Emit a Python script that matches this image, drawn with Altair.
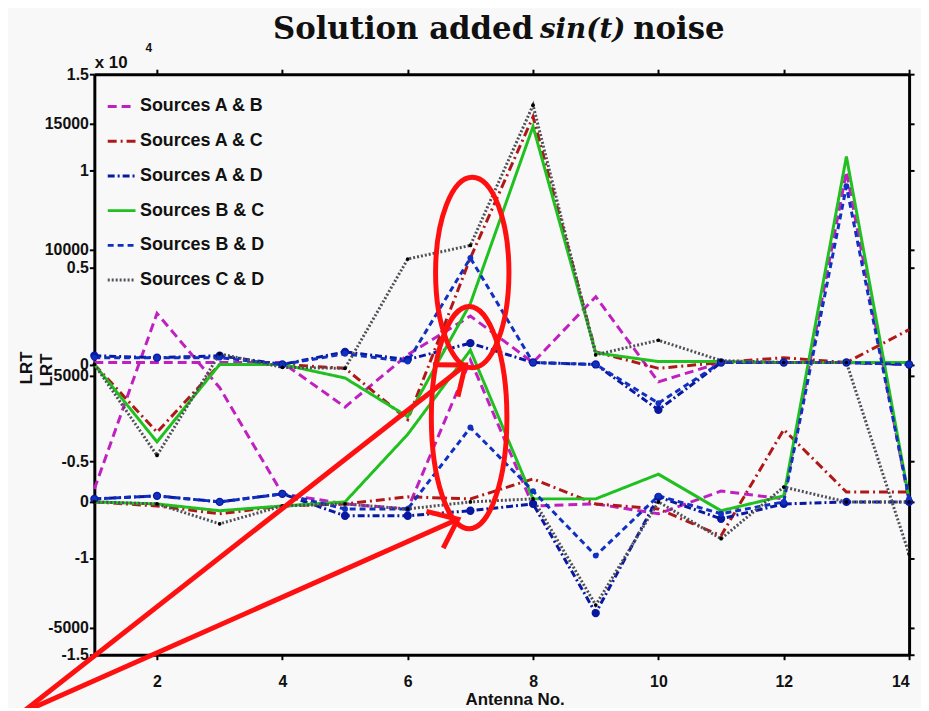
import altair as alt
import pandas as pd

# ---------------- data ----------------
antenna = list(range(1, 15))
series = ["Sources A & B", "Sources A & C", "Sources A & D",
          "Sources B & C", "Sources B & D", "Sources C & D"]

# upper group (left axis in units of x 10^4)
upper_AB = [0.01, 0.01, 0.01, 0.01, -0.22, 0.05, 0.25, 0.01, 0.35, -0.09, 0.01, 0.01, 0.01, 0.0]
upper_AC = [0.0, -0.35, 0.0, 0.0, -0.02, -0.285, 0.55, 1.28, 0.065, -0.02, 0.01, 0.035, 0.01, 0.18]
upper_AD = [0.045, 0.035, 0.045, 0.0, 0.065, 0.025, 0.11, 0.01, 0.0, -0.235, 0.01, 0.01, 0.01, 0.0]
upper_BC = [0.0, -0.40, 0.0, 0.0, -0.07, -0.27, 0.315, 1.23, 0.06, 0.015, 0.015, 0.01, 0.01, 0.01]
upper_BD = [0.035, 0.035, 0.035, 0.0, 0.055, 0.015, 0.55, 0.01, 0.0, -0.2, 0.01, 0.01, 0.01, 0.0]
upper_CD = [0.0, -0.47, 0.055, -0.015, -0.02, 0.545, 0.615, 1.34, 0.05, 0.125, 0.02, 0.01, 0.01, -0.98]

# lower group (second left axis, raw units)
lower_AB = [510, 7480, 4530, 320, -80, -280, 5630, -160, -80, -470, 430, 120, 13100, 0]
lower_AC = [0, -160, -470, -160, -80, 200, 120, 910, -80, -280, -1340, 2870, 390, 390]
lower_AD = [120, 240, 0, 320, -550, -550, -350, -80, -4410, 200, -670, -80, 0, 0]
lower_BC = [0, -80, -350, -160, 0, 2680, 6020, 120, 120, 1100, -350, 240, 13700, 120]
lower_BD = [120, 240, 0, 320, -280, -280, 2950, 430, -2130, 240, -470, 0, 12520, 120]
lower_CD = [0, -80, -870, -160, -80, -280, 0, 120, -4090, 0, -1460, 590, 0, 0]

upper = dict(zip(series, [upper_AB, upper_AC, upper_AD, upper_BC, upper_BD, upper_CD]))
lower = dict(zip(series, [lower_AB, lower_AC, lower_AD, lower_BC, lower_BD, lower_CD]))

upper_ticks = [1.5, 1, 0.5, 0, -0.5, -1, -1.5]
upper_tick_labels = ["1.5", "1", "0.5", "0", "-0.5", "-1", "-1.5"]
lower_ticks = [15000, 10000, 5000, 0, -5000]
x_ticks = [2, 4, 6, 8, 10, 12, 14]

# annotation (red ellipses and arrows) in data coordinates
ellipse_x = [7.03, 6.98]
ellipse_y = [0.475, -0.275]
arrow_x0 = [-0.156, -0.156]
arrow_y0 = [-1.80, -1.80]
arrow_x1 = [6.92, 6.80]
arrow_y1 = [-0.003, -0.80]

# ---------------- styling ----------------
colors = ["#c020c0", "#b01818", "#0818a0", "#20c020", "#1030c0", "#505058"]
dashes = [[9, 5], [9, 4, 2, 4], [7, 3, 2, 3], [1, 0], [6, 4], [2, 2]]
widths = [3, 3, 3, 3.5, 3, 2.5]

# second axis mapped onto the first one: pos = OFF + SC * value
OFF = -0.7103
SC = 0.00013026

rows = []
for name in series:
    for i, x in enumerate(antenna):
        rows.append({"antenna": x, "series": name, "panel": "upper", "value": upper[name][i]})
        rows.append({"antenna": x, "series": name, "panel": "lower", "value": lower[name][i]})
df = pd.DataFrame(rows)

tick_pos = upper_ticks + [OFF + SC * v for v in lower_ticks]
tick_lab = upper_tick_labels + [str(v) for v in lower_ticks]
expr = "''"
for p, l in zip(tick_pos, tick_lab):
    expr = f"abs(datum.value - ({p:.5f})) < 0.003 ? '{l}' : " + expr

FONT = "Liberation Sans"
xscale = alt.Scale(domain=[1, 14], nice=False, zero=False)
yscale = alt.Scale(domain=[-1.5, 1.5], nice=False, zero=False)
xaxis = alt.Axis(values=x_ticks, title=None, labelPadding=14, format="d")
yaxis = alt.Axis(values=tick_pos, title=None, labelExpr=expr, labelPadding=1,
                 labelOverlap=False, labelFlush=False)

legend = alt.Legend(title=None, orient="none", legendX=12, legendY=17,
                    symbolType="stroke", symbolStrokeWidth=3, symbolSize=784,
                    labelFont=FONT, labelFontWeight="bold", labelFontSize=18,
                    rowPadding=10, labelOffset=3, padding=0, labelColor="#111")

base = alt.Chart(df).transform_calculate(
    pos=f"datum.panel == 'upper' ? datum.value : {OFF} + {SC} * datum.value"
)

X = alt.X("antenna:Q", scale=xscale, axis=xaxis)
Y = alt.Y("pos:Q", scale=yscale, axis=yaxis)

lines = base.mark_line().encode(
    x=X, y=Y,
    color=alt.Color("series:N", scale=alt.Scale(domain=series, range=colors), legend=legend),
    strokeDash=alt.StrokeDash("series:N", scale=alt.Scale(domain=series, range=dashes), legend=legend),
    strokeWidth=alt.StrokeWidth("series:N", scale=alt.Scale(domain=series, range=widths), legend=None),
    detail="panel:N",
)

point_specs = [("Sources A & D", "#0818a0", 70), ("Sources B & D", "#1030c0", 35),
               ("Sources C & D", "#000000", 14)]
point_layers = []
for name, col, sz in point_specs:
    point_layers.append(
        base.transform_filter(alt.datum.series == name)
        .mark_point(filled=True, color=col, size=sz, opacity=1)
        .encode(x=X, y=Y)
    )

ann_df = pd.DataFrame({"antenna": ellipse_x, "pos": ellipse_y})
ell_paths = [
    "M 0,-1 A 0.385,1 0 1,1 0,1 A 0.385,1 0 1,1 0,-1 Z",
    "M 0,-1 A 0.34,1 0 1,1 0,1 A 0.34,1 0 1,1 0,-1 Z",
]
ell_sizes = [96 * 96 * 4, 112 * 112 * 4]
ellipses = []
for i in range(2):
    ellipses.append(
        alt.Chart(ann_df.iloc[[i]]).mark_point(shape=ell_paths[i], size=ell_sizes[i],
                                               filled=False, stroke="#ff1010",
                                               strokeWidth=5, opacity=1)
        .encode(x=X, y=Y)
    )

arr_df = pd.DataFrame({"antenna": arrow_x0, "pos": arrow_y0, "x1": arrow_x1, "y1": arrow_y1,
                       "ang": [321.9, 335.5]})
arrow_lines = alt.Chart(arr_df).mark_rule(color="#ff1010", strokeWidth=5).encode(
    x=X, y=Y, x2="x1:Q", y2="y1:Q")
heads = alt.Chart(arr_df).mark_point(shape="M -1,-0.8 L 0,0 L -1,0.8", size=2600, filled=False,
                                     stroke="#ff1010", strokeWidth=5, opacity=1,
                                     strokeJoin="miter").encode(
    x=alt.X("x1:Q", scale=xscale, axis=xaxis), y=alt.Y("y1:Q", scale=yscale, axis=yaxis),
    angle=alt.Angle("ang:Q", scale=None))

one = pd.DataFrame({"k": [0]})


def label(txt, x, y, size=17, font=FONT, weight="bold", style="normal", angle=0, align="center"):
    return alt.Chart(one).mark_text(text=txt, font=font, fontSize=size, fontWeight=weight,
                                    fontStyle=style, angle=angle, align=align,
                                    baseline="middle", color="#111").encode(
        x=alt.value(x), y=alt.value(y))


texts = [
    label("Solution added", 180, -44, size=31, font="DejaVu Serif", align="left"),
    label("sin(t)", 449, -44, size=28, font="DejaVu Serif", style="italic", align="left"),
    label("noise", 543, -44, size=31, font="DejaVu Serif", align="left"),
    label("x 10", 17, -11, size=17),
    label("4", 55, -26, size=12),
    label("LRT", -68, 296, size=17, angle=270),
    label("LRT", -48, 298, size=17, angle=270),
    label("Antenna No.", 424, 631, size=17),
]

inner = alt.layer(lines, *point_layers, *ellipses, arrow_lines, heads, *texts)

frame = base.mark_point(opacity=0).encode(
    x=alt.X("antenna:Q", scale=xscale,
            axis=alt.Axis(orient="top", values=x_ticks, labels=False, title=None)),
    y=alt.Y("pos:Q", scale=yscale,
            axis=alt.Axis(orient="right", values=tick_pos, labels=False, title=None)),
)

chart = alt.layer(inner, frame).resolve_scale(x="independent", y="independent").properties(
    width=821, height=585,
    autosize=alt.AutoSizeParams(type="none"),
    padding={"left": 87, "top": 64, "right": 12, "bottom": 51},
    background="#f8f8f8",
).configure_view(stroke=None).configure_axis(
    grid=False, domainColor="#000", domainWidth=3, tickColor="#000", tickWidth=2,
    tickSize=5, labelFont=FONT, labelFontWeight="bold", labelFontSize=16,
    labelColor="#111",
)

chart.save("out.html", embed_options={"renderer": "svg", "actions": False})
